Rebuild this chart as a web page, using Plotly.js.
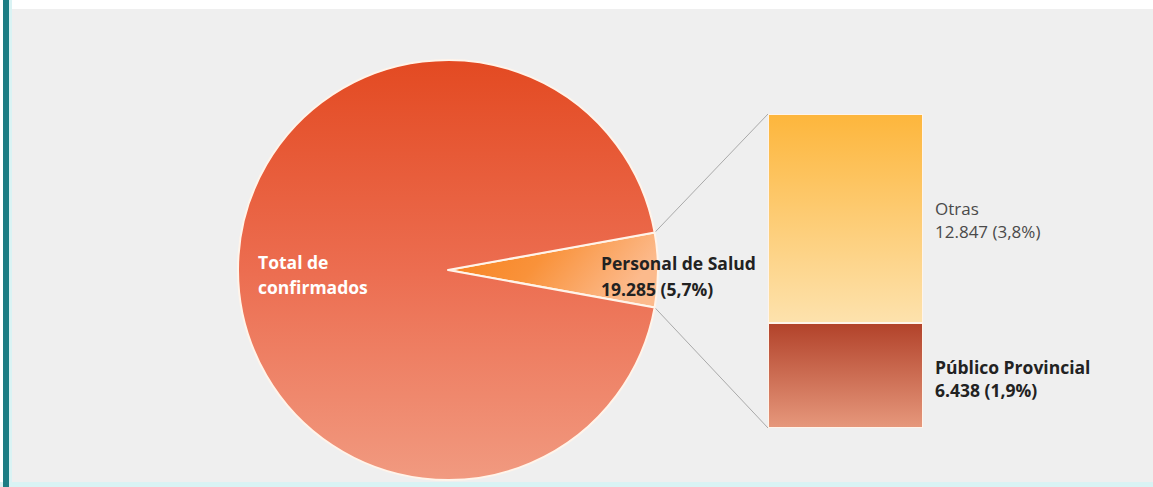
<!DOCTYPE html>
<html>
<head>
<meta charset="utf-8">
<script src="https://cdn.plot.ly/plotly-3.0.1.min.js"></script>
<style>
  html, body { margin: 0; padding: 0; background: #ffffff; }
  #chart { width: 1153px; height: 487px; }
</style>
</head>
<body>
<div id="chart"></div>
<script>
// ---- data ----
const pieLabels = ["Personal de Salud", "Total de confirmados"];
const pieValues = [19285, 319015];
const pieText = ["19.285 (5,7%)", ""];
const bigLabelLines = ["Total de", "confirmados"];

const barCategories = ["Personal de Salud"];
const barSeriesNames = ["Público Provincial", "Otras"];
const barPublico = [6438];
const barOtras = [12847];
const barPublicoText = "6.438 (1,9%)";
const barOtrasText = "12.847 (3,8%)";

// ---- geometry ----
const W = 1153, H = 487;
const cx = 448, cy = 270, R = 210;
const pieTotal = pieValues.reduce((a, b) => a + b, 0);
const halfAngle = pieValues[0] / pieTotal * 180; // degrees
const barTotal = barPublico[0] + barOtras[0];

const xDom = [768 / W, 923 / W];
const yDom = [1 - 428 / H, 1 - 114 / H];

const th = halfAngle * Math.PI / 180;
const pTopX = (cx + R * Math.cos(th)) / W, pTopY = 1 - (cy - R * Math.sin(th)) / H;
const pBotX = (cx + R * Math.cos(th)) / W, pBotY = 1 - (cy + R * Math.sin(th)) / H;

const pie = {
  type: "pie",
  labels: pieLabels,
  values: pieValues,
  sort: false,
  direction: "clockwise",
  rotation: 90 - halfAngle,
  textinfo: "none",
  hoverinfo: "none",
  showlegend: false,
  marker: { colors: ["#f99a45", "#ea6a4a"], line: { color: "#fff4ea", width: 2 } },
  domain: { x: [(cx - R) / W, (cx + R) / W], y: [1 - (cy + R) / H, 1 - (cy - R) / H] }
};

const barP = {
  type: "bar", x: barCategories, y: barPublico, name: barSeriesNames[0],
  marker: { color: "#cc6a4f", line: { color: "#fff4ea", width: 1.5 } },
  hoverinfo: "none", showlegend: false
};
const barO = {
  type: "bar", x: barCategories, y: barOtras, name: barSeriesNames[1],
  marker: { color: "#fdcd74", line: { color: "#fff4ea", width: 1.5 } },
  hoverinfo: "none", showlegend: false
};

const font = "Open Sans, Noto Sans, sans-serif";
function lab(text, xpx, ypx, size, color, bold) {
  return { xref: "paper", yref: "paper", x: xpx / W, y: 1 - ypx / H, xanchor: "left", yanchor: "middle",
    align: "left", showarrow: false, text: bold ? "<b>" + text + "</b>" : text,
    font: { family: font, size: size, color: color } };
}

const layout = {
  width: W, height: H,
  margin: { l: 0, r: 0, t: 0, b: 0 },
  paper_bgcolor: "#ffffff",
  plot_bgcolor: "rgba(0,0,0,0)",
  barmode: "stack",
  bargap: 0,
  xaxis: { domain: xDom, range: [-0.5, 0.5], visible: false, fixedrange: true },
  yaxis: { domain: yDom, range: [0, barTotal], visible: false, fixedrange: true },
  shapes: [
    { type: "rect", xref: "paper", yref: "paper", x0: 12 / W, x1: 1, y0: 1 - 482 / H, y1: 1 - 9 / H,
      fillcolor: "#efefef", line: { width: 0 }, layer: "below" },
    { type: "rect", xref: "paper", yref: "paper", x0: 0, x1: 1, y0: 0, y1: 1 - 482 / H,
      fillcolor: "#d9f3f4", line: { width: 0 }, layer: "below" },
    { type: "rect", xref: "paper", yref: "paper", x0: 3 / W, x1: 9 / W, y0: 0, y1: 1,
      fillcolor: "#1d7d84", line: { width: 0 }, layer: "below" },
    { type: "rect", xref: "paper", yref: "paper", x0: 9 / W, x1: 12 / W, y0: 0, y1: 1,
      fillcolor: "#d9f3f4", line: { width: 0 }, layer: "below" },
    { type: "line", xref: "paper", yref: "paper", x0: pTopX, y0: pTopY, x1: xDom[0], y1: yDom[1],
      line: { color: "#a9a9a9", width: 1 }, layer: "below" },
    { type: "line", xref: "paper", yref: "paper", x0: pBotX, y0: pBotY, x1: xDom[0], y1: yDom[0],
      line: { color: "#a9a9a9", width: 1 }, layer: "below" }
  ],
  annotations: [
    lab(bigLabelLines[0], 256, 262, 17.5, "#ffffff", true),
    lab(bigLabelLines[1], 256, 287, 17.5, "#ffffff", true),
    lab(pieLabels[0], 599, 263, 17.5, "#222222", true),
    lab(pieText[0], 599, 289, 17.5, "#222222", true),
    lab(barSeriesNames[1], 933, 208, 17, "#4a4a4a", false),
    lab(barOtrasText, 933, 231, 17, "#4a4a4a", false),
    lab(barSeriesNames[0], 933, 367, 17.5, "#222222", true),
    lab(barPublicoText, 933, 390, 17.5, "#222222", true)
  ]
};

const gd = document.getElementById("chart");
Plotly.newPlot(gd, [pie, barP, barO], layout, { staticPlot: true, displayModeBar: false }).then(() => {
  const svg = gd.querySelector(".main-svg");
  const NS = "http://www.w3.org/2000/svg";
  let defs = svg.querySelector("defs");
  if (!defs) { defs = document.createElementNS(NS, "defs"); svg.insertBefore(defs, svg.firstChild); }
  function grad(id, stops, x2, y2) {
    const g = document.createElementNS(NS, "linearGradient");
    g.setAttribute("id", id);
    g.setAttribute("x1", "0"); g.setAttribute("y1", "0");
    g.setAttribute("x2", x2); g.setAttribute("y2", y2);
    stops.forEach(([o, c]) => {
      const s = document.createElementNS(NS, "stop");
      s.setAttribute("offset", o); s.setAttribute("stop-color", c);
      g.appendChild(s);
    });
    defs.appendChild(g);
    return "url(#" + id + ")";
  }
  const gBig = grad("gBig", [["0", "#e34a22"], ["0.5", "#ec6d50"], ["1", "#f19a80"]], "0", "1");
  const gSmall = grad("gSmall", [["0", "#f7801c"], ["0.5", "#f9923a"], ["1", "#fcba8c"]], "1", "0.3");
  const gOtras = grad("gOtras", [["0", "#fdb63c"], ["1", "#fde2ad"]], "0", "1");
  const gPub = grad("gPub", [["0", "#b2422a"], ["1", "#e6987c"]], "0", "1");
  const slices = gd.querySelectorAll(".slice path.surface");
  if (slices[0]) slices[0].style.fill = gSmall;
  if (slices[1]) slices[1].style.fill = gBig;
  const traces = gd.querySelectorAll(".barlayer .trace");
  if (traces[0]) traces[0].querySelectorAll("path").forEach(p => p.style.fill = gPub);
  if (traces[1]) traces[1].querySelectorAll("path").forEach(p => p.style.fill = gOtras);
});
</script>
</body>
</html>
